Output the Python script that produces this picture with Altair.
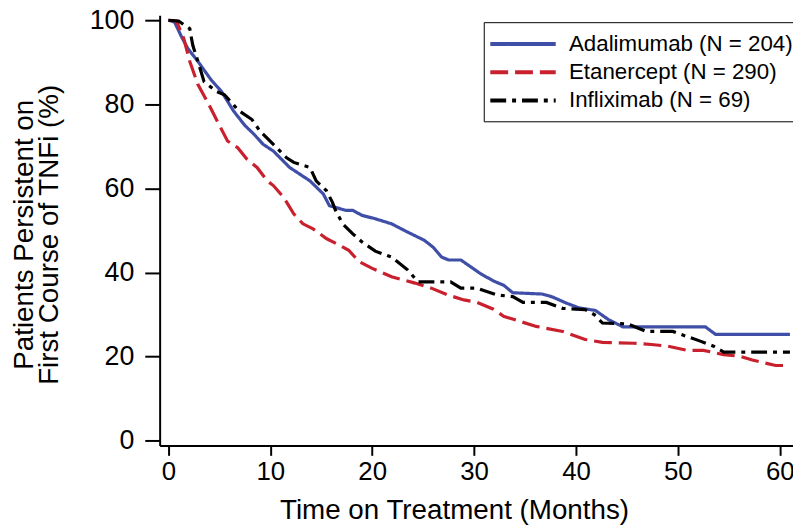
import altair as alt
import pandas as pd

series = ["Adalimumab (N = 204)", "Etanercept (N = 290)", "Infliximab (N = 69)"]
colors = ["#3f4ea6", "#c9202e", "#000000"]
dashes = [[1, 0], [18, 7], [16, 6, 4, 6]]

ada_month = [0, 0.6, 1.3, 1.9, 2.9, 4.2, 5.2, 6.4, 7.5, 8.4, 9.3, 10.3, 11.9, 13.9, 15.2, 15.8, 16.4, 17.4,
             18.1, 19.0, 20.3, 21.9, 23.5, 25.1, 26.0, 26.8, 27.5, 28.7, 30.6, 31.9, 32.9, 33.8, 36.7, 37.7,
             39.0, 40.3, 41.9, 43.2, 44.6, 52.7, 53.7, 61.0]
ada_pct = [100, 99.6, 96, 93.3, 90.2, 85.8, 83.1, 78.4, 75, 72.9, 70.5, 68.9, 65, 61.8, 58.7, 55.9, 55.5, 54.8,
           54.8, 53.6, 52.8, 51.6, 49.6, 47.7, 46, 43.7, 43.0, 43.0, 39.8, 38, 37.0, 35.2, 34.9, 34.2,
           32.8, 31.6, 31.0, 28.8, 27.1, 27.1, 25.3, 25.3]

eta_month = [0, 0.8, 1.5, 2.1, 2.9, 3.9, 4.8, 5.8, 6.8, 7.7, 8.7, 9.7, 10.3, 11.3, 12.3, 13.2, 14.2, 15.5,
             16.8, 17.7, 18.7, 20.0, 21.9, 24.2, 25.8, 27.4, 29.0, 30.3, 31.9, 32.9, 34.5, 36.1, 38.7, 40.9,
             42.6, 45.7, 47.4, 49.0, 50.9, 52.5, 54.5, 56.1, 57.3, 59.6, 61.0]
eta_pct = [100, 99.8, 95.7, 90.2, 84.7, 80.3, 76, 71.3, 69.7, 67, 65, 61.8, 60.7, 57.9, 54, 51.6, 50.4, 48.1,
           46.5, 45.3, 42.6, 41, 39, 37.5, 36.3, 34.7, 33.5, 32.9, 31.3, 29.6, 28.4, 27.2, 26.0, 24.1,
           23.4, 23.2, 22.9, 22.5, 21.5, 21.5, 20.5, 20.1, 19.2, 17.9, 17.9]

inf_month = [0, 1.0, 2.1, 2.2, 2.4, 2.9, 3.5, 4.7, 5.5, 6.4, 6.8, 8.2, 9.0, 10.3, 11.6, 12.3, 13.9, 14.5,
             15.5, 16.1, 16.4, 17.1, 18.1, 19.0, 20.3, 21.9, 23.5, 24.5, 27.7, 28.7, 30.3, 32.2, 33.8, 34.8,
             37.1, 38.7, 40.9, 41.8, 42.6, 45.1, 46.9, 49.5, 50.3, 52.2, 53.5, 54.5, 61.0]
inf_pct = [100, 99.8, 98, 96.5, 94, 90.2, 85.4, 83.1, 82.3, 79.9, 78.7, 76.4, 73.6, 70.5, 67.3, 66.2, 65, 61.8,
           59.5, 56.7, 54.8, 51.6, 49.2, 47.3, 45.1, 43.7, 40.6, 37.8, 37.8, 36.3, 36.3, 34.7, 34.3, 32.9,
           32.9, 31.5, 31.2, 30, 28, 27.8, 26.0, 26.0, 25.3, 23.7, 22.5, 21.1, 21.1]

x_ticks = [0, 10, 20, 30, 40, 50, 60]
y_ticks = [0, 20, 40, 60, 80, 100]

rows = []
for name, ms, ps in zip(series, [ada_month, eta_month, inf_month], [ada_pct, eta_pct, inf_pct]):
    for i, (m, p) in enumerate(zip(ms, ps)):
        rows.append({"series": name, "month": m, "pct": p, "order": i})
df = pd.DataFrame(rows)

FONT = "Liberation Sans"

chart = alt.Chart(df).mark_line(strokeWidth=3.2).encode(
    x=alt.X("month:Q",
            scale=alt.Scale(domain=[-0.86, 61.3], nice=False, zero=False),
            axis=alt.Axis(values=x_ticks, title="Time on Treatment (Months)", grid=False,
                          tickSize=10, labelPadding=3, titleX=297, titleY=74,
                          titleBaseline="alphabetic", labelFontSize=26)),
    y=alt.Y("pct:Q",
            scale=alt.Scale(domain=[-1.1, 101.2], nice=False, zero=False),
            axis=alt.Axis(values=y_ticks, title=["Patients Persistent on", "First Course of TNFi (%)"],
                          grid=False, tickSize=15, labelPadding=11, titleAngle=270,
                          titleX=-150, titleY=221, titleBaseline="top", titleAlign="center",
                          titleLineHeight=25)),
    color=alt.Color("series:N", scale=alt.Scale(domain=series, range=colors),
                    legend=alt.Legend(title=None, orient="none", legendX=327, legendY=7,
                                      strokeColor="black", fillColor="white", padding=9,
                                      labelFontSize=22.5, labelFont=FONT, labelColor="black",
                                      labelLimit=400,
                                      symbolType="M-1.4,0H4.6", symbolStrokeWidth=4, symbolSize=484,
                                      labelOffset=51, rowPadding=3.5)),
    strokeDash=alt.StrokeDash("series:N", scale=alt.Scale(domain=series, range=dashes), legend=None),
    order="order:Q",
).properties(
    width=639, height=434,
    autosize=alt.AutoSizeParams(type="none"),
    padding={"left": 153, "top": 5, "right": 0, "bottom": 79},
).configure_view(stroke=None).configure_axis(
    domainColor="black", domainWidth=2, tickColor="black", tickWidth=2,
    labelFont=FONT, labelFontSize=27, labelColor="black",
    titleFont=FONT, titleFontSize=28, titleColor="black", titleFontWeight="normal",
)

chart.save("out.html", embed_options={"renderer": "svg", "actions": False})
